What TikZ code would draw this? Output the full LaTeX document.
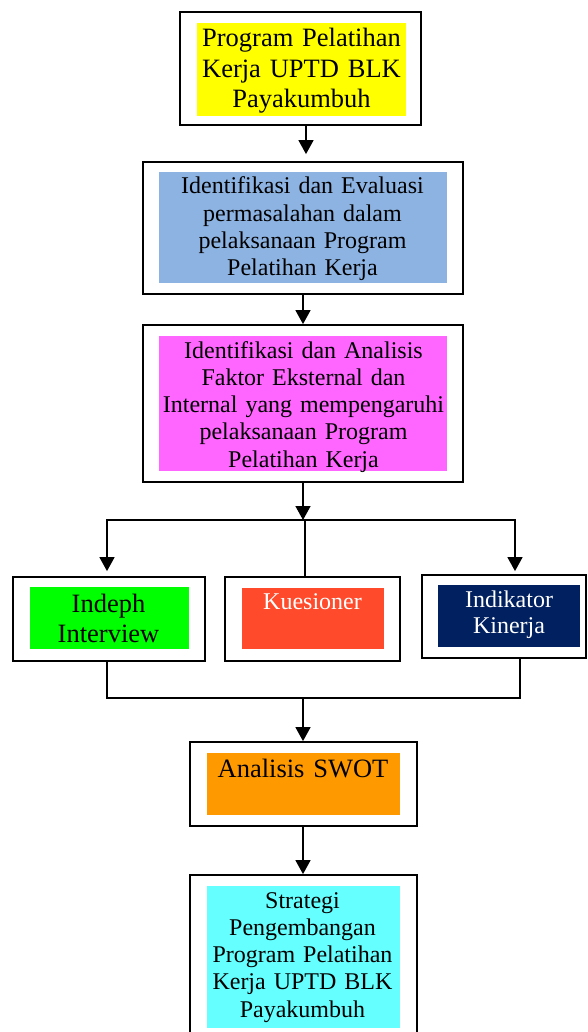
\documentclass[tikz,border=0pt]{standalone}
\usepackage{fontspec}
\setmainfont{Liberation Serif}
\usetikzlibrary{arrows.meta}
\definecolor{cyel}{RGB}{255,255,0}
\definecolor{cblue}{RGB}{141,179,226}
\definecolor{cmag}{RGB}{255,102,255}
\definecolor{cgreen}{RGB}{0,255,0}
\definecolor{cred}{RGB}{255,75,43}
\definecolor{cnavy}{RGB}{0,32,96}
\definecolor{corange}{RGB}{255,153,0}
\definecolor{ccyan}{RGB}{102,255,255}
\begin{document}
\begin{tikzpicture}[x=1pt,y=-1pt,
  outer/.style={draw=black,line width=1.8pt,rectangle,inner sep=0pt},
  big/.style={font=\fontsize{26.5}{30.5}\selectfont},
  norm/.style={font=\fontsize{24}{27.3}\selectfont},
  small/.style={font=\fontsize{24}{26}\selectfont},
  txt/.style={anchor=base,align=center,text width=300pt,inner sep=0pt},
  conn/.style={line width=1.5pt},
  arr/.style={conn,-{Triangle[width=15pt,length=14pt]}}]
\useasboundingbox (0,0) rectangle (587,1032);
\clip (0,0) rectangle (587,1032);
\fill[white] (0,0) rectangle (587,1032);
% guide coordinates
\coordinate (g306) at (306,0);
\coordinate (g303) at (303,0);
\coordinate (g305) at (305,0);
\coordinate (g107) at (107,0);
\coordinate (g515) at (515,0);
\coordinate (g520) at (520,0);
% box 1
\node[outer,minimum width=241pt,minimum height=113pt] (b1) at (300.5,68.5) {};
\fill[cyel] (197,23) rectangle (406,116);
\node[txt,big] (t1) at (301.5,47) {Program Pelatihan\\Kerja UPTD BLK\\Payakumbuh};
% box 2
\node[outer,minimum width=320pt,minimum height=132pt] (b2) at (303,228) {};
\fill[cblue] (159,172) rectangle (447,283);
\node[txt,norm] (t2) at (302.5,194) {Identifikasi dan Evaluasi\\permasalahan dalam\\pelaksanaan Program\\Pelatihan Kerja};
% box 3
\node[outer,minimum width=320pt,minimum height=157pt] (b3) at (303,403.5) {};
\fill[cmag] (159,336) rectangle (447,471);
\node[txt,norm] (t3) at (303.5,358) {Identifikasi dan Analisis\\Faktor Eksternal dan\\Internal yang mempengaruhi\\pelaksanaan Program\\Pelatihan Kerja};
% box 4
\node[outer,minimum width=192pt,minimum height=84pt] (b4) at (109,619) {};
\fill[cgreen] (30,587) rectangle (189,649);
\node[txt,big,font=\fontsize{26.5}{30}\selectfont] (t4) at (108.5,612) {Indeph\\Interview};
% box 5
\node[outer,minimum width=175pt,minimum height=84pt] (b5) at (312.5,619) {};
\fill[cred] (242,588) rectangle (384,649);
\node[txt,small,text=white] (t5) at (312.5,609) {Kuesioner};
% box 6
\node[outer,minimum width=164pt,minimum height=83pt] (b6) at (504,616.5) {};
\fill[cnavy] (438,585) rectangle (580,647);
\node[txt,small,text=white] (t6) at (509,607) {Indikator\\Kinerja};
% box 7
\node[outer,minimum width=227pt,minimum height=84pt] (b7) at (303.5,784) {};
\fill[corange] (207,753) rectangle (400,815);
\node[txt,big] (t7) at (303,777) {Analisis SWOT};
% box 8
\node[outer,minimum width=227pt,minimum height=170pt] (b8) at (303.5,960) {};
\fill[ccyan] (207,886) rectangle (400,1028);
\node[txt,norm] (t8) at (302.5,908) {Strategi\\Pengembangan\\Program Pelatihan\\Kerja UPTD BLK\\Payakumbuh};
% connectors
\coordinate (j1) at (303,520);
\coordinate (j2) at (303,698);
\draw[arr,shorten >=7pt] (b1.south -| g306) -- (b2.north -| g306);
\draw[arr] (b2.south -| g303) -- (b3.north -| g303);
\draw[arr] (b3.south -| g303) -- (j1);
\draw[arr,shorten >=5pt] (j1) -| (b4.north -| g107);
\draw[arr,shorten >=3pt] (j1) -| (b6.north -| g515);
\draw[conn] (j1 -| g305) -- (b5.north -| g305);
\draw[conn] (b4.south -| g107) |- (j2);
\draw[conn] (b6.south -| g520) |- (j2);
\draw[arr] (j2) -- (b7.north -| g303);
\draw[arr] (b7.south -| g303) -- (b8.north -| g303);
\end{tikzpicture}
\end{document}
